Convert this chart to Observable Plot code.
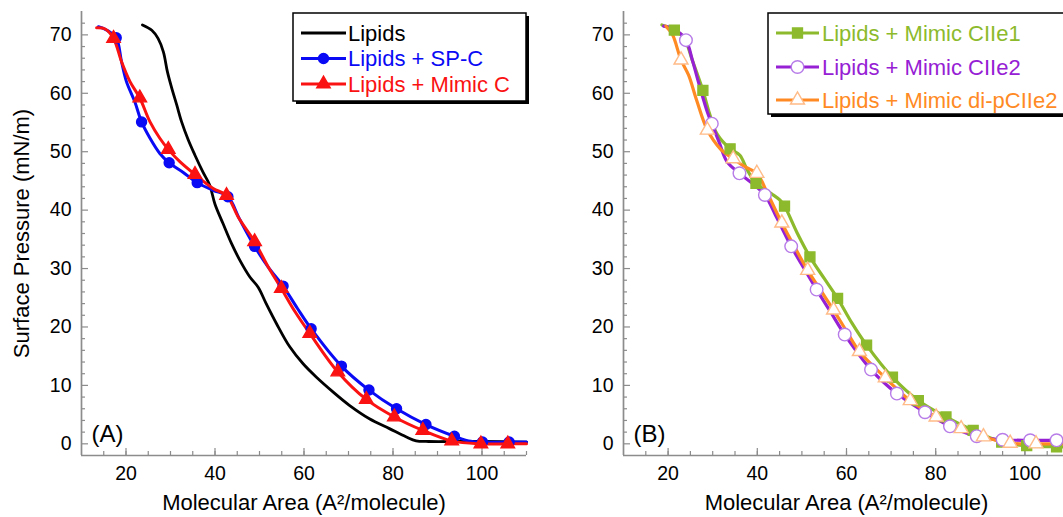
<!DOCTYPE html>
<html>
<head>
<meta charset="utf-8">
<script src="https://cdn.jsdelivr.net/npm/d3@7"></script>
<script src="https://cdn.jsdelivr.net/npm/@observablehq/plot@0.6"></script>
<style>
html, body { margin: 0; padding: 0; background: #fff; overflow: hidden; }
#wrap { position: relative; width: 1063px; height: 517px; overflow: hidden; font-family: "Liberation Sans", Arial, sans-serif; }
.panel { position: absolute; top: 0; }
</style>
</head>
<body>
<div id="wrap"></div>
<script>
// ---------- axes ----------
const xDomain = [10, 110];
const yDomain = [-2, 74];
const xMajor = [20, 40, 60, 80, 100];
const xMinor = [15, 20, 25, 30, 35, 40, 45, 50, 55, 60, 65, 70, 75, 80, 85, 90, 95, 100, 105, 110];
const yMajor = [0, 10, 20, 30, 40, 50, 60, 70];
const yMinor = [2, 4, 6, 8, 12, 14, 16, 18, 22, 24, 26, 28, 32, 34, 36, 38, 42, 44, 46, 48, 52, 54, 56, 58, 62, 64, 66, 68, 72];
const xTitle = "Molecular Area (A\u00B2/molecule)";
const yTitle = "Surface Pressure (mN/m)";
const panelLabels = ["(A)", "(B)"];

// ---------- panel A series ----------
const lipidsCurve = [[23.7,71.7],[25.8,70.8],[27.2,69.4],[28.4,67.1],[29.3,63.7],[30.2,61.1],[31.4,58],[32.5,55.1],[34,52],[35.5,49.4],[37.3,46.5],[38.8,44.3],[40,41],[41.8,37.7],[43.7,34.3],[45.6,31.4],[47.8,28.6],[49.7,26.8],[51.5,24],[53.8,20.6],[56.8,16.6],[59.8,13.7],[62.8,11.4],[66.5,8.9],[70.2,6.6],[74.7,4.3],[79.2,2.6],[82.9,1.2],[85.2,0.5],[88,0.4],[95,0.4],[100,0.4],[110,0.3]];

const spcCurve = [[13.8,71.4],[15.7,70.8],[17.8,69.5],[19,65.4],[20.1,62],[22,58.5],[23.5,55.1],[25.4,52.3],[27.6,49.7],[29.7,48.1],[32.8,46.5],[36,44.7],[39.6,43.4],[42.9,42.3],[45.5,38.5],[48.9,33.8],[52,30.2],[55.3,27],[58.5,23.2],[61.6,19.7],[68.4,13.3],[74.6,9.2],[80.8,6],[87.4,3.3],[93.8,1.3],[97,0.5],[100.1,0.3],[106.1,0.3],[110,0.3]];
const spcMarkers = [[17.8,69.5],[23.5,55.1],[29.7,48.1],[36,44.7],[42.9,42.3],[48.9,33.8],[55.3,27],[61.6,19.7],[68.4,13.3],[74.6,9.2],[80.8,6],[87.4,3.3],[93.8,1.3],[100.1,0.3],[106.1,0.3]];

const mimicCCurve = [[13.4,71.2],[15.3,71],[17.2,69.4],[19,65.4],[20.9,62],[23.1,59.2],[25.4,55.1],[27.6,52.3],[29.5,50.4],[32.1,48.3],[35.5,46.1],[39.6,43.7],[42.6,42.5],[45.3,38.7],[48.9,34.6],[51.8,30.5],[54.9,26.6],[58,22.6],[61.3,18.9],[67.6,12.3],[74,7.6],[80.3,4.6],[86.7,2.3],[93.2,0.5],[99.75,0],[105.8,0],[110,0]];
const mimicCMarkers = [[17.2,69.4],[23.1,59.2],[29.5,50.4],[35.5,46.1],[42.6,42.5],[48.9,34.6],[54.9,26.6],[61.3,18.9],[67.6,12.3],[74,7.6],[80.3,4.6],[86.7,2.3],[93.2,0.5],[99.75,0],[105.8,0]];

// ---------- panel B series ----------
const cIIe1Curve = [[18.6,71.7],[21.4,70.8],[23.5,69.6],[25.5,65.5],[27.8,60.5],[29.3,56.5],[31,53],[33.9,50.5],[36.1,49.4],[37.6,47.1],[39.7,44.6],[43.2,42.8],[45.1,41.7],[46.1,40.7],[49,36],[51.8,32],[55,28.3],[58,24.9],[61.2,20.7],[64.5,16.9],[70.3,11.4],[76.1,7.4],[82.3,4.6],[88.4,2.3],[94.8,0.3],[100.4,-0.3],[107.1,-0.5],[110,-0.5]];
const cIIe1Markers = [[21.4,70.8],[27.8,60.5],[33.9,50.5],[39.7,44.6],[46.1,40.7],[51.8,32],[58,24.9],[64.5,16.9],[70.3,11.4],[76.1,7.4],[82.3,4.6],[88.4,2.3],[94.8,0.3],[100.4,-0.3],[107.1,-0.5]];

const cIIe2Curve = [[19,71.5],[21.4,71],[24,69.1],[25.5,65.5],[27,61.4],[28.8,56.8],[29.8,54.8],[31.5,51.5],[33.2,48.3],[36,46.3],[39,44.5],[41.7,42.6],[44.5,38.5],[47.6,33.8],[50.5,30],[53.3,26.4],[56.5,22.5],[59.6,18.7],[65.5,12.7],[71.3,8.6],[77.6,5.4],[83.2,3],[89.2,1.3],[95,0.7],[101.2,0.6],[107.1,0.6],[110,0.6]];
const cIIe2Markers = [[24,69.1],[29.8,54.8],[36,46.3],[41.7,42.6],[47.6,33.8],[53.3,26.4],[59.6,18.7],[65.5,12.7],[71.3,8.6],[77.6,5.4],[83.2,3],[89.2,1.3],[95,0.7],[101.2,0.6],[107.1,0.6]];

const diPCurve = [[19.5,71.5],[21,70],[22.9,65.7],[24.6,63.1],[26.4,58.8],[28.8,53.7],[31.7,50.5],[34.6,48.8],[37.5,47.3],[39.9,46.3],[42.5,42.5],[45.5,37.8],[48.5,33.5],[51.3,29.7],[54.2,26.3],[57.1,22.9],[60,19.3],[62.9,15.8],[68.7,11.3],[74.3,7.4],[80.1,4.6],[85.7,2.6],[90.7,1.2],[96.7,0.1],[102.5,0],[110,0]];
const diPMarkers = [[22.9,65.7],[28.8,53.7],[34.6,48.8],[39.9,46.3],[45.5,37.8],[51.3,29.7],[57.1,22.9],[62.9,15.8],[68.7,11.3],[74.3,7.4],[80.1,4.6],[85.7,2.6],[90.7,1.2],[96.7,0.1],[102.5,0]];

// ---------- series styling / legend ----------
const seriesA = [
  {name: "Lipids", curve: lipidsCurve, markers: null, color: "#000000", width: 2.8},
  {name: "Lipids + SP-C", curve: spcCurve, markers: spcMarkers, color: "#0a0af5", width: 3, symbol: "circle", r: 5, fill: "#0a0af5", mstroke: "#0a0af5"},
  {name: "Lipids + Mimic C", curve: mimicCCurve, markers: mimicCMarkers, color: "#fa1212", width: 3, symbol: "triangle", r: 5, fill: "#fa1212", mstroke: "#fa1212"}
];
const seriesB = [
  {name: "Lipids + Mimic CIIe1", curve: cIIe1Curve, markers: cIIe1Markers, color: "#8cba2c", width: 3.2, symbol: "square", r: 5.6, fill: "#8cba2c", mstroke: "#8cba2c"},
  {name: "Lipids + Mimic CIIe2", curve: cIIe2Curve, markers: cIIe2Markers, color: "#9620d4", width: 3.2, symbol: "circle", r: 6.3, fill: "#ffffff", mstroke: "#b77ce8"},
  {name: "Lipids + Mimic di-pCIIe2", curve: diPCurve, markers: diPMarkers, color: "#ff8a24", width: 3.2, symbol: "triangle", r: 5.2, fill: "#ffffff", mstroke: "#ffbb88"}
];

const axisGray = "#8c8c8c";
const H = 517, MT = 11, MB = 62;

function makePanel(series, width, marginLeft, marginRight, label, showYTitle) {
  const fw = width - marginLeft - marginRight;
  const fh = H - MT - MB;
  const marks = [
    Plot.ruleX([xDomain[0]], {stroke: axisGray, strokeWidth: 1.7}),
    Plot.ruleY([yDomain[0]], {stroke: axisGray, strokeWidth: 1.7}),
    Plot.tickX(xMinor, {x: d => d, insetTop: fh - 4, stroke: axisGray, strokeWidth: 1.2}),
    Plot.tickX(xMajor, {x: d => d, insetTop: fh - 7, stroke: axisGray, strokeWidth: 1.2}),
    Plot.tickY(yMinor, {y: d => d, insetRight: fw - 4, stroke: axisGray, strokeWidth: 1.2}),
    Plot.tickY(yMajor, {y: d => d, insetRight: fw - 7, stroke: axisGray, strokeWidth: 1.2}),
    Plot.axisX({ticks: xMajor, tickSize: 0, tickPadding: 11, label: null, fill: "#000"}),
    Plot.axisY({ticks: yMajor, tickSize: 0, tickPadding: 10, label: null, fill: "#000"}),
    Plot.text([xTitle], {frameAnchor: "bottom", dy: 47, textAnchor: "middle", lineAnchor: "middle", fontSize: 22, fill: "#000"}),
    Plot.text([label], {frameAnchor: "bottom-left", dx: 10, dy: -14, textAnchor: "start", lineAnchor: "bottom", fontSize: 24, fill: "#000"})
  ];
  if (showYTitle) {
    marks.push(Plot.text([yTitle], {frameAnchor: "left", dx: -60, rotate: -90, textAnchor: "middle", lineAnchor: "middle", fontSize: 22, fill: "#000"}));
  }
  for (const s of series) {
    marks.push(Plot.line(s.curve, {x: d => d[0], y: d => d[1], stroke: s.color, strokeWidth: s.width, curve: "catmull-rom"}));
  }
  for (const s of series) {
    if (s.markers) {
      marks.push(Plot.dot(s.markers, {x: d => d[0], y: d => d[1], symbol: s.symbol, r: s.r, fill: s.fill, stroke: s.mstroke, strokeWidth: 1.4}));
    }
  }
  return Plot.plot({
    width, height: H, marginLeft, marginRight, marginTop: MT, marginBottom: MB,
    x: {domain: xDomain}, y: {domain: yDomain},
    style: {fontFamily: "'Liberation Sans', Arial, sans-serif", fontSize: "19.5px", color: "#000", background: "transparent", overflow: "visible"},
    marks
  });
}

const wrap = document.getElementById("wrap");
const pA = makePanel(seriesA, 531, 81, 5, panelLabels[0], true);
pA.classList.add("panel"); pA.style.left = "0px";
wrap.appendChild(pA);
const pB = makePanel(seriesB, 540, 92, 2, panelLabels[1], false);
pB.classList.add("panel"); pB.style.left = "531px";
wrap.appendChild(pB);

// ---------- legends ----------
const overlay = d3.select(wrap).append("svg")
  .attr("width", 1063).attr("height", 517)
  .style("position", "absolute").style("left", "0px").style("top", "0px");

const symbolMap = {circle: d3.symbolCircle, triangle: d3.symbolTriangle, square: d3.symbolSquare};

function legend(series, box, rowY, lineX0, lineX1, textX) {
  overlay.append("rect").attr("x", box.x + 3).attr("y", box.y + 3).attr("width", box.w).attr("height", box.h).attr("fill", "#000");
  overlay.append("rect").attr("x", box.x).attr("y", box.y).attr("width", box.w).attr("height", box.h)
    .attr("fill", "#fff").attr("stroke", "#000").attr("stroke-width", 1.5);
  series.forEach((s, i) => {
    const y = rowY[i];
    overlay.append("line").attr("x1", lineX0).attr("x2", lineX1).attr("y1", y).attr("y2", y)
      .attr("stroke", s.color).attr("stroke-width", s.width);
    if (s.markers) {
      const size = Math.PI * s.r * s.r;
      overlay.append("path").attr("d", d3.symbol(symbolMap[s.symbol], size)())
        .attr("transform", `translate(${(lineX0 + lineX1) / 2},${y})`)
        .attr("fill", s.fill).attr("stroke", s.mstroke).attr("stroke-width", 1.4);
    }
    overlay.append("text").attr("x", textX).attr("y", y).attr("dy", "0.35em")
      .attr("font-family", "'Liberation Sans', Arial, sans-serif").attr("font-size", 22)
      .attr("fill", s.color).text(s.name);
  });
}

legend(seriesA, {x: 293, y: 13, w: 233, h: 88}, [33, 58.5, 84], 301, 346, 348);
legend(seriesB, {x: 768, y: 13, w: 320, h: 101}, [33, 67, 100], 776, 819, 822);
</script>
</body>
</html>
